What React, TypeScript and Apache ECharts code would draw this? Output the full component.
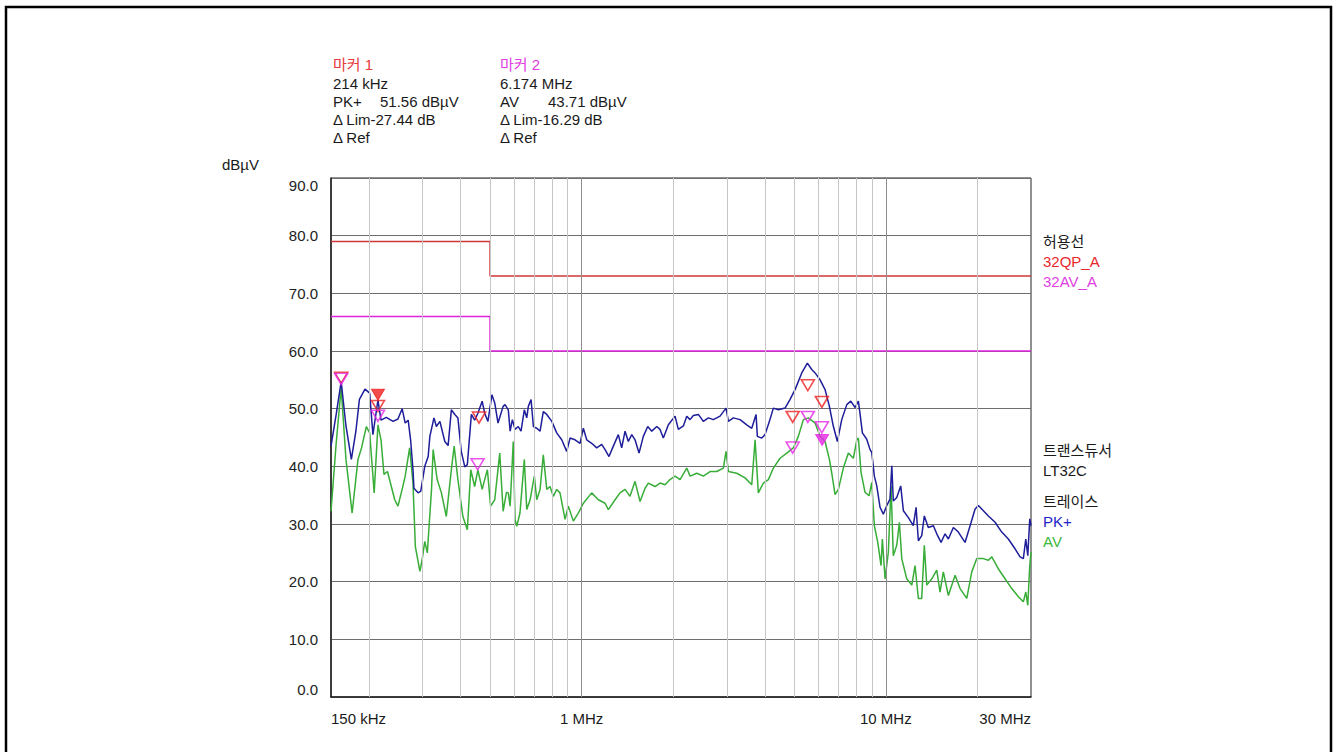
import React, { useEffect, useRef } from "react";
import * as echarts from "echarts";

const FONT = "'Liberation Sans', Arial, 'Noto Sans CJK KR', sans-serif";

// ---- axes ----
const yMin = 0;
const yMax = 90;
const yStep = 10;
const xMin = 0.15; // MHz
const xMax = 30; // MHz
const xTickLabels: [number, string][] = [
  [0.15, "150 kHz"],
  [1, "1 MHz"],
  [10, "10 MHz"],
  [30, "30 MHz"],
];
const minorGridFreqs = [0.2, 0.3, 0.4, 0.5, 0.6, 0.7, 0.8, 0.9, 2, 3, 4, 5, 6, 7, 8, 9, 20];
const majorGridFreqs = [1, 10];

// ---- limit lines (MHz, dBµV) ----
const limitFreq = [0.15, 0.5, 0.5, 30];
const qpLimit = [79, 79, 73, 73];
const avLimit = [66, 66, 60, 60];

// ---- traces (MHz, dBµV) ----
const pkTrace: [number, number][] = [
  [0.15, 43.5], [0.156, 49], [0.162, 54.7], [0.168, 47], [0.175, 41.2], [0.181, 46], [0.186, 51.6],
  [0.194, 53.4], [0.201, 52.7], [0.206, 45.5], [0.214, 51.5], [0.219, 48], [0.228, 48.5], [0.24, 47.8],
  [0.249, 48.2], [0.257, 50], [0.263, 47.5], [0.269, 48], [0.274, 44.6], [0.279, 39.4], [0.281, 36.2],
  [0.29, 35.4], [0.296, 35.7], [0.305, 40], [0.313, 41.7], [0.317, 45.2], [0.327, 48.4], [0.333, 46.9],
  [0.342, 47.8], [0.355, 44.3], [0.364, 43.6], [0.373, 49.8], [0.383, 49], [0.392, 48.4], [0.402, 42.6],
  [0.413, 39.9], [0.421, 40.3], [0.434, 49], [0.445, 48], [0.456, 49.2], [0.471, 51.3], [0.48, 49.2],
  [0.492, 47.8], [0.507, 52.4], [0.518, 51], [0.531, 47.5], [0.552, 50.4], [0.56, 50.7], [0.574, 49.8],
  [0.582, 46.1], [0.592, 48.1], [0.604, 46.4], [0.619, 46.9], [0.632, 46.1], [0.648, 49.8], [0.66, 48.4],
  [0.668, 50.4], [0.682, 51.6], [0.694, 46.9], [0.712, 46.6], [0.73, 46.1], [0.748, 49.5], [0.768, 49],
  [0.798, 47.8], [0.828, 45.8], [0.86, 44.6], [0.893, 42.6], [0.916, 44.9], [0.951, 44.6], [0.988, 44],
  [1.013, 46.6], [1.039, 44.6], [1.079, 44], [1.121, 43.2], [1.164, 43.8], [1.194, 42.9], [1.23, 41.7],
  [1.271, 43.5], [1.32, 45.5], [1.354, 43.2], [1.389, 46.1], [1.424, 44.3], [1.461, 45.5], [1.498, 44.6],
  [1.544, 42.3], [1.595, 45.2], [1.649, 46.9], [1.7, 46.1], [1.766, 46.9], [1.81, 46.4], [1.856, 44.9],
  [1.928, 47.2], [2.028, 48.7], [2.079, 46.4], [2.16, 47], [2.216, 48.7], [2.272, 48.1], [2.329, 48.8],
  [2.419, 49], [2.512, 47.8], [2.61, 48.4], [2.71, 48.1], [2.851, 48.7], [2.983, 50.1], [3.036, 47.8],
  [3.153, 48.4], [3.317, 48.1], [3.489, 47.2], [3.624, 46.6], [3.744, 49], [3.781, 45.2], [3.909, 44.9],
  [4.008, 45.5], [4.142, 47.8], [4.268, 50.1], [4.433, 49.8], [4.663, 50.1], [4.844, 51.6], [5.03, 53.3],
  [5.291, 56.2], [5.521, 57.9], [5.707, 56.8], [5.853, 56.2], [6.078, 55], [6.313, 53.3], [6.522, 50.4],
  [6.723, 46.9], [6.928, 44.3], [7.161, 48.1], [7.44, 50.7], [7.668, 51.3], [7.923, 50.2], [8.122, 51.3],
  [8.229, 49], [8.373, 45.8], [8.653, 44.7], [8.873, 42.9], [8.988, 42.4], [9.167, 38.3], [9.335, 36.6],
  [9.57, 32.9], [9.813, 31.7], [10.07, 33.2], [10.32, 34.3], [10.46, 40.1], [10.58, 34], [10.86, 34.6],
  [11.19, 36.6], [11.42, 32.3], [11.86, 31.1], [12.31, 29.7], [12.57, 32.9], [12.79, 27.1], [13.12, 28],
  [13.38, 31.4], [13.79, 29.4], [14.33, 29.7], [14.7, 28.3], [15.19, 26.8], [15.65, 28.3], [16.05, 27.4],
  [16.67, 29.4], [17.31, 28.6], [18.21, 26.8], [18.92, 29.7], [19.65, 32.6], [20.15, 33.2], [20.92, 32.3],
  [21.73, 31.4], [22.86, 30.3], [24.04, 28.6], [25.27, 27.4], [26.59, 25.7], [27.62, 24.3], [28.31, 24],
  [28.84, 27.4], [29.28, 24.5], [29.72, 30.9], [30, 29.7],
];

const avTrace: [number, number][] = [
  [0.15, 32.2], [0.156, 44], [0.162, 53.6], [0.168, 41.2], [0.176, 31.9], [0.184, 41.2], [0.189, 43.2],
  [0.196, 46.9], [0.201, 45.8], [0.208, 35.4], [0.214, 47.2], [0.219, 44.6], [0.224, 38.6], [0.23, 39.1],
  [0.243, 34.2], [0.249, 33.1], [0.257, 36], [0.263, 38.3], [0.272, 43.2], [0.279, 37.1], [0.284, 26.1],
  [0.294, 21.8], [0.299, 23.8], [0.305, 27], [0.311, 25], [0.321, 36], [0.325, 42.9], [0.335, 37.7],
  [0.346, 35.4], [0.359, 31.3], [0.373, 39.4], [0.381, 43.5], [0.392, 37.7], [0.407, 31.3], [0.421, 29],
  [0.432, 39.4], [0.445, 36.5], [0.456, 39.4], [0.471, 36], [0.48, 37.7], [0.49, 39.4], [0.502, 33.1],
  [0.518, 34.2], [0.538, 42.3], [0.552, 32.2], [0.566, 35.5], [0.574, 35.4], [0.582, 33.1], [0.596, 44.3],
  [0.604, 30.8], [0.612, 29.6], [0.627, 31.9], [0.648, 41.2], [0.66, 32.5], [0.677, 34.2], [0.699, 38.3],
  [0.712, 34.2], [0.73, 36], [0.748, 42], [0.768, 36], [0.787, 36.5], [0.807, 34.8], [0.828, 36],
  [0.849, 35.4], [0.882, 30.8], [0.904, 33.1], [0.939, 30.5], [0.975, 31.9], [1.013, 33.6], [1.079, 35.4],
  [1.135, 34.2], [1.194, 33.6], [1.224, 32.5], [1.288, 34.2], [1.337, 35.4], [1.389, 36], [1.442, 34.8],
  [1.498, 37.4], [1.556, 33.9], [1.616, 36.2], [1.657, 37.1], [1.743, 36.5], [1.81, 37.1], [1.88, 36.8],
  [1.952, 37.7], [2.028, 38.3], [2.106, 37.7], [2.216, 39.7], [2.272, 38.3], [2.39, 38.8], [2.512, 38.3],
  [2.643, 39.1], [2.781, 39.1], [2.923, 39.7], [2.983, 42.6], [3.036, 39.1], [3.235, 38.8], [3.445, 38],
  [3.624, 36.8], [3.716, 44.6], [3.809, 35.4], [3.957, 37.1], [4.111, 37.7], [4.268, 39.7], [4.489, 41.4],
  [4.724, 42.3], [4.966, 43.2], [5.157, 45.2], [5.356, 48.1], [5.563, 48.4], [5.853, 47.5], [6.078, 45.2],
  [6.313, 44.3], [6.522, 41.2], [6.642, 38.8], [6.808, 35.1], [6.981, 36], [7.249, 39.7], [7.53, 42.3],
  [7.821, 41.4], [8.025, 44.6], [8.122, 44.9], [8.291, 38.9], [8.542, 35.5], [8.806, 34.9], [8.988, 37.2],
  [9.167, 29.7], [9.406, 26.8], [9.643, 22.8], [9.739, 27.4], [9.94, 20.5], [10.19, 25.1], [10.4, 36.6],
  [10.58, 24.5], [10.86, 26.3], [11.08, 30.3], [11.28, 24], [11.71, 20.5], [12.17, 19.4], [12.47, 22.8],
  [12.79, 17.1], [13.12, 17.1], [13.38, 26.3], [13.63, 19.4], [14.16, 20.5], [14.7, 22], [15.07, 18.2],
  [15.45, 21.7], [16.05, 17.6], [16.89, 21.1], [17.54, 18.8], [18.45, 17.1], [19.16, 21.7], [19.9, 24],
  [20.92, 24], [21.73, 23.7], [22.3, 24.3], [23.44, 22.2], [24.65, 20.5], [25.94, 18.8], [27.27, 17.4],
  [28.31, 16.5], [28.84, 18.2], [29.28, 15.9], [29.72, 22.8], [30, 25.1],
];

// ---- final measurement markers (MHz, dBµV) ----
const qpMarkers: [number, number][] = [
  [0.162, 54.5], [0.214, 49.6], [0.46, 47.6], [4.94, 47.7], [5.54, 53.2], [6.16, 50.3],
];
const avMarkers: [number, number][] = [
  [0.162, 54.3], [0.214, 47.9], [0.455, 39.5], [4.94, 42.4], [5.54, 47.7], [6.16, 45.9],
];
const marker1: [number, number][] = [[0.214, 51.56]];
const marker2: [number, number][] = [[6.174, 43.71]];

// ---- texts ----
const marker1Lines = ["214 kHz", "Δ Lim-27.44 dB", "Δ Ref"];
const marker2Lines = ["6.174 MHz", "Δ Lim-16.29 dB", "Δ Ref"];

const C_PK = "#1e1e9a";
const C_AV = "#38ad38";
const C_QP = "#d03838";
const C_AVL = "#dd22dd";
const C_MRED = "#ee2020";
const C_MMAG = "#e628e6";

const TRI = "path://M0,0L12,0L6,10Z";

function buildOption() {
  const vline = (freqs: number[], color: string) => ({
    type: "line",
    data: [],
    silent: true,
    z: 1,
    markLine: {
      silent: true,
      symbol: ["none", "none"],
      label: { show: false },
      animation: false,
      lineStyle: { color, width: 1, type: "solid" },
      emphasis: { disabled: true },
      data: freqs.map((f) => ({ xAxis: f })),
    },
  });
  const markerSeries = (data: [number, number][], color: string, filled: boolean, z: number) => ({
    type: "scatter",
    data,
    symbol: TRI,
    symbolSize: [13, 11],
    symbolOffset: [0, -5],
    z,
    silent: true,
    itemStyle: filled
      ? { color, borderColor: color, borderWidth: 1 }
      : { color: "rgba(255,255,255,0)", borderColor: color, borderWidth: 1.6 },
  });
  return {
    animation: false,
    backgroundColor: "#ffffff",
    grid: {
      left: 331,
      right: 306,
      top: 178,
      bottom: 55,
      show: true,
      borderColor: "#222",
      borderWidth: 1,
      backgroundColor: "rgba(0,0,0,0)",
    },
    xAxis: {
      type: "log",
      logBase: 10,
      min: xMin,
      max: xMax,
      axisLine: { show: true, lineStyle: { color: "#222", width: 1.5 } },
      axisTick: { show: false },
      axisLabel: { show: false },
      splitLine: { show: false },
    },
    yAxis: {
      type: "value",
      min: yMin,
      max: yMax,
      interval: yStep,
      axisLine: { show: true, lineStyle: { color: "#222", width: 1.5 } },
      axisTick: { show: false },
      splitLine: { show: true, lineStyle: { color: "#6e6e6e", width: 1 } },
      axisLabel: {
        formatter: (v: number) => v.toFixed(1),
        fontSize: 15,
        fontFamily: FONT,
        color: "#222",
        margin: 13,
        verticalAlignMinLabel: "bottom",
        verticalAlignMaxLabel: "top",
      },
    },
    series: [
      vline(minorGridFreqs, "#c6c6c6"),
      vline(majorGridFreqs, "#8e8e8e"),
      {
        type: "line",
        name: "32QP_A",
        data: limitFreq.map((f, i) => [f, qpLimit[i]]),
        symbol: "none",
        z: 3,
        lineStyle: { color: C_QP, width: 1.5 },
        silent: true,
      },
      {
        type: "line",
        name: "32AV_A",
        data: limitFreq.map((f, i) => [f, avLimit[i]]),
        symbol: "none",
        z: 3,
        lineStyle: { color: C_AVL, width: 1.5 },
        silent: true,
      },
      {
        type: "line",
        name: "AV",
        data: avTrace,
        symbol: "none",
        z: 4,
        lineStyle: { color: C_AV, width: 1.5 },
        silent: true,
      },
      {
        type: "line",
        name: "PK+",
        data: pkTrace,
        symbol: "none",
        z: 4,
        lineStyle: { color: C_PK, width: 1.5 },
        silent: true,
      },
      markerSeries(qpMarkers, C_MRED, false, 6),
      markerSeries(avMarkers, C_MMAG, false, 7),
      markerSeries(marker1, C_MRED, true, 8),
      markerSeries(marker2, C_MMAG, true, 8),
    ],
  };
}

function txt(text: string, x: number, y: number, fill = "#1a1a1a", align = "left", size = 15) {
  return {
    type: "text",
    x,
    y,
    silent: true,
    z: 10,
    style: {
      text,
      fill,
      font: `${size}px ${FONT}`,
      align,
      verticalAlign: "middle",
      textAlign: align,
      textVerticalAlign: "middle",
    },
  };
}

function buildGraphic(px: (f: number) => number) {
  const g: any[] = [];
  // page frame
  g.push({
    type: "rect",
    silent: true,
    shape: { x: 6, y: 7, width: 1325, height: 800 },
    style: { fill: "none", stroke: "#000", lineWidth: 2.5 },
  });
  // x axis labels
  xTickLabels.forEach(([f, label], i) => {
    const align = i === 0 ? "left" : i === xTickLabels.length - 1 ? "right" : "center";
    g.push(txt(label, px(f), 718, "#1a1a1a", align));
  });
  // unit
  g.push(txt("dBµV", 222, 164));
  // marker 1 block
  const rows = [64, 83, 101, 119, 137];
  g.push(txt("마커 1", 333, rows[0], "#e8383c"));
  g.push(txt(marker1Lines[0], 333, rows[1]));
  g.push(txt("PK+", 333, rows[2]));
  g.push(txt("51.56 dBµV", 380, rows[2]));
  g.push(txt(marker1Lines[1], 333, rows[3]));
  g.push(txt(marker1Lines[2], 333, rows[4]));
  // marker 2 block
  g.push(txt("마커 2", 500, rows[0], "#e040e0"));
  g.push(txt(marker2Lines[0], 500, rows[1]));
  g.push(txt("AV", 500, rows[2]));
  g.push(txt("43.71 dBµV", 548, rows[2]));
  g.push(txt(marker2Lines[1], 500, rows[3]));
  g.push(txt(marker2Lines[2], 500, rows[4]));
  // right side legend
  const lx = 1043;
  g.push(txt("허용선", lx, 241));
  g.push(txt("32QP_A", lx, 261, "#e8262c"));
  g.push(txt("32AV_A", lx, 281, "#e040e0"));
  g.push(txt("트랜스듀서", lx, 450));
  g.push(txt("LT32C", lx, 470));
  g.push(txt("트레이스", lx, 501));
  g.push(txt("PK+", lx, 521, "#2222c8"));
  g.push(txt("AV", lx, 541, "#3cb83c"));
  return g;
}

export default function App() {
  const ref = useRef<HTMLDivElement>(null);
  useEffect(() => {
    const el = ref.current;
    if (!el) return;
    const chart = echarts.init(el, null, { renderer: "svg" });
    chart.setOption(buildOption() as any);
    const px = (f: number) => chart.convertToPixel({ xAxisIndex: 0 }, f) as unknown as number;
    chart.setOption({ graphic: buildGraphic(px) } as any);
    return () => chart.dispose();
  }, []);
  return (
    <div
      ref={ref}
      style={{ position: "fixed", left: 0, top: 0, width: 1337, height: 752, background: "#fff" }}
    />
  );
}
